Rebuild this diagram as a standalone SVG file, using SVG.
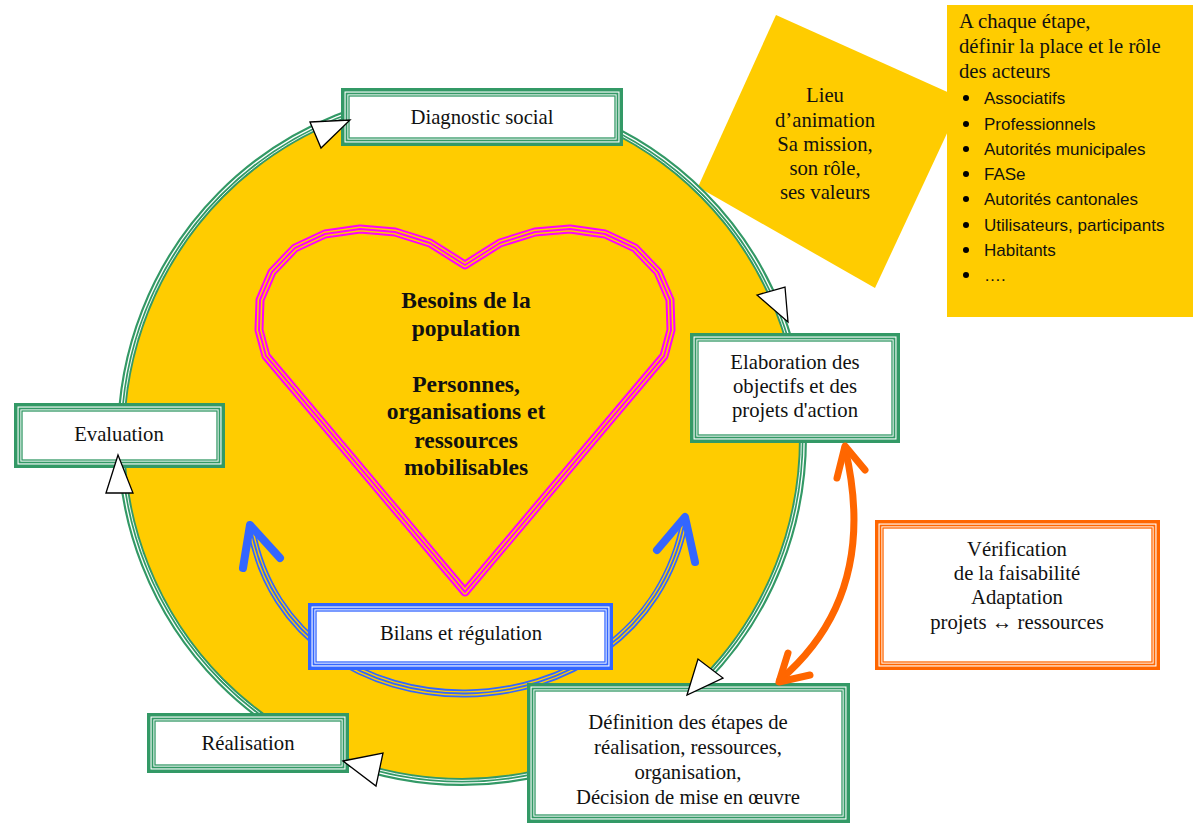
<svg xmlns="http://www.w3.org/2000/svg" width="1194" height="824" viewBox="0 0 1194 824">
<style>
.serif{font-family:"Liberation Serif","Times New Roman",serif;font-size:20.7px;fill:#111;text-anchor:middle}
.bold{font-family:"Liberation Serif","Times New Roman",serif;font-size:23.5px;font-weight:bold;fill:#111;text-anchor:middle}
.sans{font-family:"Liberation Sans",Arial,sans-serif;font-size:17px;fill:#111}
.lserif{font-family:"Liberation Serif","Times New Roman",serif;font-size:20.7px;fill:#111}
.bg{fill:#fff;stroke:none}
.g rect.b1,.g rect.b2,.g rect.b3{fill:none;stroke:#339966}
.o rect.b1,.o rect.b2,.o rect.b3{fill:none;stroke:#FF6600}
.bl rect.b1,.bl rect.b2,.bl rect.b3{fill:none;stroke:#3366FF}
rect.b1{stroke-width:3.5}
rect.b2{stroke-width:1.8}
rect.b3{stroke-width:1.3}
.tri{fill:#fff;stroke:#000;stroke-width:1.3;stroke-linejoin:miter}
.blueHead{fill:none;stroke:#3366FF;stroke-width:8;stroke-linecap:round;stroke-linejoin:round}
.orange{fill:none;stroke:#FF6600;stroke-width:7;stroke-linecap:round;stroke-linejoin:round}
</style>
<defs>
<path id="heartPath" d="M465,265 L430,243 L395,232 L360,229 L325,234 L295,248 L272,272 L260,300 L259,330 L266,356 L465,592 L664,356 L671,330 L670,300 L658,272 L635,248 L605,234 L570,229 L535,232 L500,243 Z"/>
<path id="bluePath" d="M251,528 C290,750 640,750 685,520"/>
</defs>

<!-- Lieu d'animation diamond -->
<g id="lieu">
<polygon points="776,15 963,99 875,288 698,187" fill="#FFCC00"/>
<text class="serif"><tspan x="825" y="102">Lieu</tspan><tspan x="825" y="127">d’animation</tspan><tspan x="825" y="151">Sa mission,</tspan><tspan x="825" y="175">son rôle,</tspan><tspan x="825" y="199">ses valeurs</tspan></text>
</g>

<!-- Acteurs list -->
<g id="acteurs">
<rect x="947" y="5" width="246" height="312" fill="#FFCC00"/>
<text class="lserif"><tspan x="959" y="28">A chaque étape,</tspan><tspan x="959" y="53">définir la place et le rôle</tspan><tspan x="959" y="78">des acteurs</tspan></text>
<g fill="#000">
<circle cx="966" cy="98" r="3"/><circle cx="966" cy="124" r="3"/><circle cx="966" cy="149" r="3"/><circle cx="966" cy="174" r="3"/><circle cx="966" cy="199" r="3"/><circle cx="966" cy="225" r="3"/><circle cx="966" cy="250" r="3"/><circle cx="966" cy="275" r="3"/>
</g>
<text class="sans"><tspan x="984" y="104">Associatifs</tspan><tspan x="984" y="130">Professionnels</tspan><tspan x="984" y="155">Autorités municipales</tspan><tspan x="984" y="180">FASe</tspan><tspan x="984" y="205">Autorités cantonales</tspan><tspan x="984" y="231">Utilisateurs, participants</tspan><tspan x="984" y="256">Habitants</tspan><tspan x="984" y="281">….</tspan></text>
</g>

<!-- Cycle circle -->
<g id="cycle">
<ellipse cx="462" cy="438" rx="341" ry="344" fill="#FFCC00" stroke="#339966" stroke-width="8"/>
<ellipse cx="462" cy="438" rx="342.2" ry="345.2" fill="none" stroke="#fff" stroke-width="1.3"/>
<ellipse cx="462" cy="438" rx="339.4" ry="342.4" fill="none" stroke="#fff" stroke-width="0.9"/>
</g>

<!-- Heart -->
<g id="besoins">
<g fill="none" stroke-linejoin="round">
<use href="#heartPath" stroke="#FF00FF" stroke-width="9"/>
<use href="#heartPath" stroke="#FFCC00" stroke-width="5"/>
<use href="#heartPath" stroke="#FF00FF" stroke-width="2"/>
</g>
<text class="bold"><tspan x="466" y="308">Besoins de la</tspan><tspan x="466" y="336">population</tspan><tspan x="466" y="392">Personnes,</tspan><tspan x="466" y="419">organisations et</tspan><tspan x="466" y="448">ressources</tspan><tspan x="466" y="475">mobilisables</tspan></text>
</g>

<!-- Connectors (régulation loop) -->
<g id="connectors">
<g fill="none">
<use href="#bluePath" stroke="#3366FF" stroke-width="8"/>
<use href="#bluePath" stroke="#FFCC00" stroke-width="4.6"/>
<use href="#bluePath" stroke="#3366FF" stroke-width="1.8"/>
</g>
<path class="blueHead" d="M243,568 L250,525 L280,558"/>
<path class="blueHead" d="M657,550 L685,517 L695,562"/>
</g>

<!-- Bilans et régulation -->
<g id="bilans" class="bl">
<rect class="bg" x="308" y="603" width="305" height="67"/>
<rect class="b1" x="309.75" y="604.75" width="301.5" height="63.5"/>
<rect class="b2" x="313.5" y="608.5" width="294" height="56"/>
<rect class="b3" x="316" y="611" width="289" height="51"/>
<text class="serif" x="461" y="640">Bilans et régulation</text>
</g>

<!-- Diagnostic social -->
<g id="diagnostic" class="g">
<rect class="bg" x="341" y="88" width="282" height="58"/>
<rect class="b1" x="342.75" y="89.75" width="278.5" height="54.5"/>
<rect class="b2" x="346.5" y="93.5" width="271" height="47"/>
<rect class="b3" x="349" y="96" width="266" height="42"/>
<text class="serif" x="482" y="124">Diagnostic social</text>
</g>

<!-- Elaboration -->
<g id="elaboration" class="g">
<rect class="bg" x="690" y="333" width="210" height="110"/>
<rect class="b1" x="691.75" y="334.75" width="206.5" height="106.5"/>
<rect class="b2" x="695.5" y="338.5" width="199" height="99"/>
<rect class="b3" x="698" y="341" width="194" height="94"/>
<text class="serif"><tspan x="795" y="369">Elaboration des</tspan><tspan x="795" y="393">objectifs et des</tspan><tspan x="795" y="417">projets d'action</tspan></text>
</g>

<!-- Evaluation -->
<g id="evaluation" class="g">
<rect class="bg" x="14" y="403" width="211" height="65"/>
<rect class="b1" x="15.75" y="404.75" width="207.5" height="61.5"/>
<rect class="b2" x="19.5" y="408.5" width="200" height="54"/>
<rect class="b3" x="22" y="411" width="195" height="49"/>
<text class="serif" x="119" y="441">Evaluation</text>
</g>

<!-- Réalisation -->
<g id="realisation" class="g">
<rect class="bg" x="147" y="713" width="202" height="60"/>
<rect class="b1" x="148.75" y="714.75" width="198.5" height="56.5"/>
<rect class="b2" x="152.5" y="718.5" width="191" height="49"/>
<rect class="b3" x="155" y="721" width="186" height="44"/>
<text class="serif" x="248" y="750">Réalisation</text>
</g>

<!-- Définition -->
<g id="definition" class="g">
<rect class="bg" x="527" y="683" width="323" height="140"/>
<rect class="b1" x="528.75" y="684.75" width="319.5" height="136.5"/>
<rect class="b2" x="532.5" y="688.5" width="312" height="129"/>
<rect class="b3" x="535" y="691" width="307" height="124"/>
<text class="serif"><tspan x="688" y="729">Définition des étapes de</tspan><tspan x="688" y="754">réalisation, ressources,</tspan><tspan x="688" y="779">organisation,</tspan><tspan x="688" y="804">Décision de mise en œuvre</tspan></text>
</g>

<!-- Vérification -->
<g id="verification" class="o">
<rect class="bg" x="875" y="520" width="285" height="150"/>
<rect class="b1" x="876.75" y="521.75" width="281.5" height="146.5"/>
<rect class="b2" x="880.5" y="525.5" width="274" height="139"/>
<rect class="b3" x="883" y="528" width="269" height="134"/>
<text class="serif"><tspan x="1017" y="556">Vérification</tspan><tspan x="1017" y="580">de la faisabilité</tspan><tspan x="1017" y="604">Adaptation</tspan><tspan x="1017" y="629">projets ↔ ressources</tspan></text>
</g>

<!-- Cycle arrowheads and feasibility arrow -->
<g id="connectors-top">
<path class="orange" d="M845,448 C862,520 862,610 780,680"/>
<path class="orange" d="M837,478 L845,446 L865,470"/>
<path class="orange" d="M788,653 L779,682 L810,675"/>
<polygon class="tri" points="310,122 350,120 321,148"/>
<polygon class="tri" points="757,295 785,287 788,322"/>
<polygon class="tri" points="687,695 698,659 723,678"/>
<polygon class="tri" points="343,761 383,753 376,786"/>
<polygon class="tri" points="106,493 118,455 133,493"/>
</g>
</svg>
